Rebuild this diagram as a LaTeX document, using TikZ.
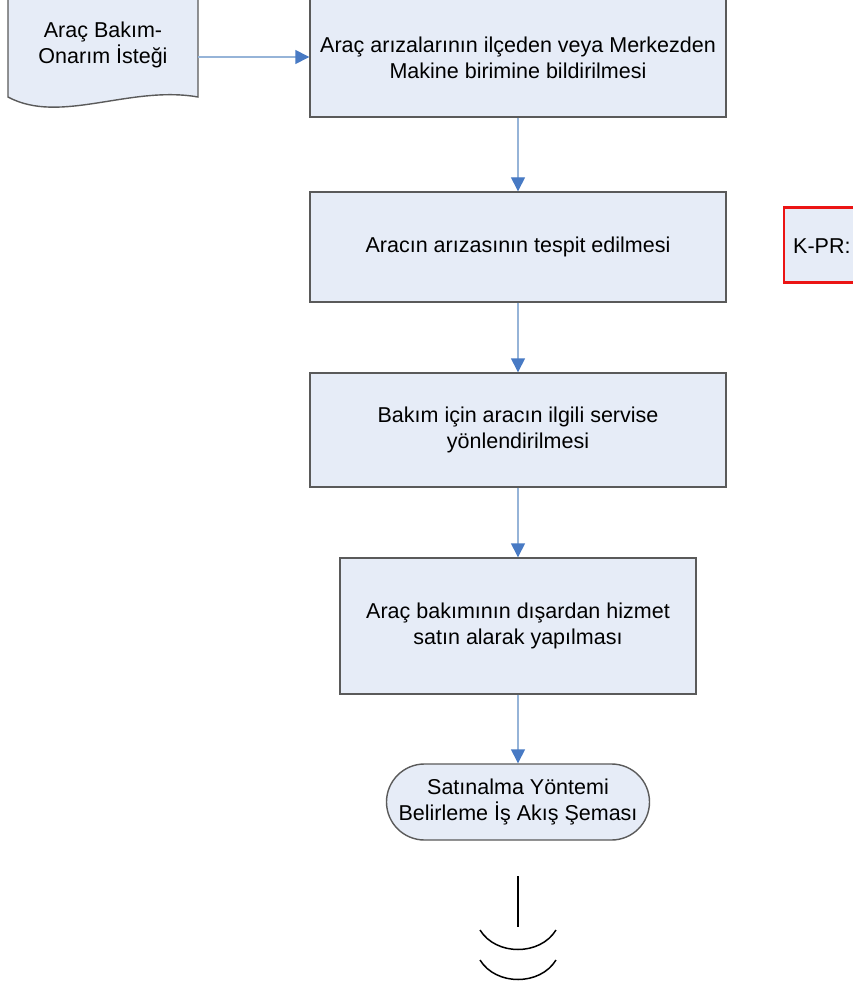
\documentclass[tikz,border=0pt]{standalone}
\usepackage{fontspec}
\setmainfont{Liberation Sans}
\usetikzlibrary{arrows.meta,shapes.misc}
\definecolor{boxfill}{RGB}{230,236,247}
\definecolor{boxline}{RGB}{90,90,90}
\definecolor{conline}{RGB}{150,180,216}
\definecolor{tipblue}{RGB}{72,122,196}
\definecolor{kred}{RGB}{235,20,20}
\begin{document}
\begin{tikzpicture}[x=1pt,y=-1pt,
  every node/.style={font=\fontsize{21.5}{26}\selectfont, align=center, inner sep=0pt},
  procbox/.style={draw=boxline, line width=1.4pt, fill=boxfill, rectangle, minimum width=416pt},
  termbox/.style={draw=boxline, line width=1.4pt, fill=boxfill, rounded rectangle, minimum width=263pt, minimum height=76pt},
  conn/.style={draw=conline, line width=1.4pt, -{Triangle[length=14pt,width=14pt,color=tipblue]}},
  plain/.style={draw=black, line width=1.5pt}
]
\clip (0,0) rectangle (853,987);
\fill[white] (0,0) rectangle (853,987);

% document shape
\path[draw=boxline, line width=1.4pt, fill=boxfill]
  (8,-5) -- (198,-5) -- (198,97) .. controls (130,85) and (60,125) .. (8,97) -- cycle;
\node (doc) at (103,45) {Araç Bakım-\\Onarım İsteği};
\coordinate (docr) at (198,57);

\node[procbox, minimum height=118pt] (b1) at (518,58) {Araç arızalarının ilçeden veya Merkezden\\Makine birimine bildirilmesi};
\node[procbox, minimum height=110pt] (b2) at (518,247) {Aracın arızasının tespit edilmesi};
\node[procbox, minimum height=114pt] (b3) at (518,430) {Bakım için aracın ilgili servise\\yönlendirilmesi};
\node[procbox, minimum width=356pt, minimum height=136pt] (b4) at (518,626) {Araç bakımının dışardan hizmet\\satın alarak yapılması};
\node[termbox] (t) at (518,802) {Satınalma Yöntemi\\Belirleme İş Akış Şeması};

\node[draw=kred, line width=2.6pt, fill=boxfill, rectangle, minimum width=130pt, minimum height=75pt] (k) at (849,245) {};
\node[anchor=west] (ktext) at (793,246) {K-PR:};

\draw[conn] (docr) -- (b1.west |- docr);
\draw[conn] (b1) -- (b2);
\draw[conn] (b2) -- (b3);
\draw[conn] (b3) -- (b4);
\draw[conn] (b4) -- (t);

% off-page symbol
\coordinate (v1) at (518,876);
\coordinate (v2) at (518,927);
\draw[plain] (v1) -- (v2);
\draw[plain] (480,930) .. controls (496,956) and (540,956) .. (556,930);
\draw[plain] (480,960) .. controls (496,986) and (540,986) .. (556,960);
\end{tikzpicture}
\end{document}
